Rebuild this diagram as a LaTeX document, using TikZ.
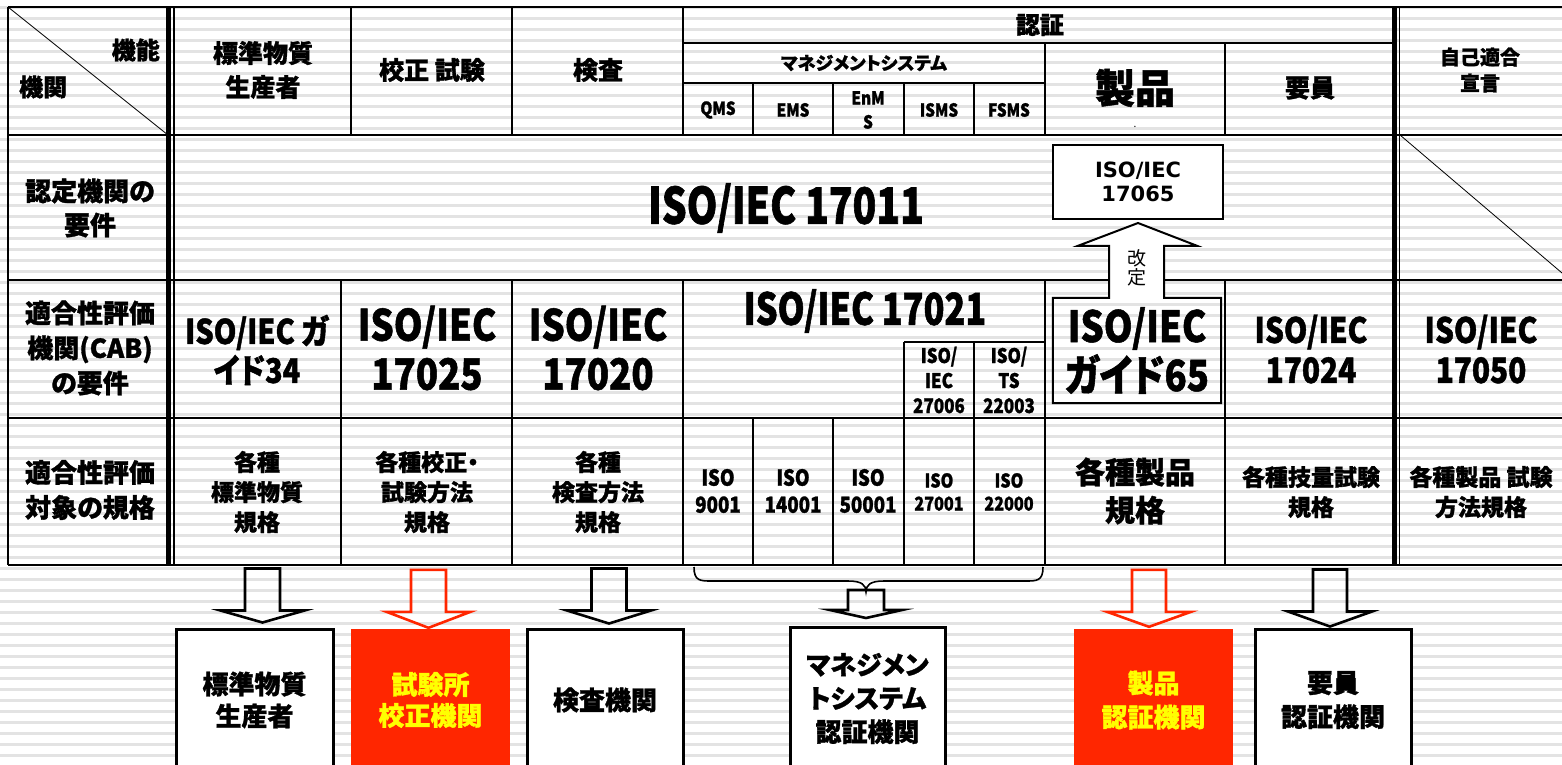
\documentclass[tikz,border=0pt]{standalone}
\usepackage{fontspec}
\newfontfamily\jpfont{Noto Sans CJK JP}[RawFeature=+palt, BoldFeatures={FakeBold=1.2}]
\newfontfamily\latfont{Noto Sans CJK JP}[RawFeature=+palt, FakeStretch=0.85, BoldFeatures={FakeBold=1.2}]
\newfontfamily\latnar{Noto Sans CJK JP}[RawFeature=+palt, FakeStretch=0.78, BoldFeatures={FakeBold=1.2}]
\newfontfamily\vfont{DejaVu Sans}
\usetikzlibrary{calc}
\definecolor{cabred}{RGB}{255,38,0}
\definecolor{cabyel}{RGB}{255,255,0}
\newcommand\jfs[2]{\jpfont\bfseries\fontsize{#1}{#2}\selectfont}
\newcommand\lfs[2]{\latfont\bfseries\fontsize{#1}{#2}\selectfont}
\newcommand\nfs[2]{\latnar\bfseries\fontsize{#1}{#2}\selectfont}
\tikzset{
  stripe/.style={fill=black!11},
  tl/.style={line width=1.5pt, black},
  tlo/.style={line width=2pt, black},
  thk/.style={line width=4.5pt, black},
  lbl/.style={inner sep=0pt, align=center},
  blkarr/.style={draw=black, line width=2.6pt, line join=miter},
  redarr/.style={draw=cabred, line width=2.6pt, line join=miter},
  outbox/.style={draw=black, line width=3pt, fill=white, minimum width=156pt, minimum height=142pt, inner sep=0pt, align=center},
  redbox/.style={fill=cabred, minimum width=159pt, minimum height=142pt, inner sep=0pt, align=center, text=cabyel},
}
\begin{document}
\begin{tikzpicture}[x=1pt,y=-1pt]
\useasboundingbox (0,0) rectangle (1562,764);
\begin{scope}
\clip (0,0) rectangle (1562,764);
\fill[white] (0,0) rectangle (1562,764);
% background stripes
\foreach \k in {-1,...,70} {\fill[stripe] (0,{6+11*\k}) rectangle (1562,{9+11*\k});}
% horizontal table lines
\draw[tlo] (8,7) -- (1562,7);
\draw[tl] (683,43) -- (1395,43);
\draw[tl] (683,83) -- (1045,83);
\draw[tl] (8,135) -- (1562,135);
\draw[tl] (8,280) -- (1562,280);
\draw[tl] (904,342) -- (1045,342);
\draw[tl] (8,418) -- (1562,418);
\draw[tlo] (8,565) -- (1562,565);
% vertical table lines
\draw[tlo] (8,7) -- (8,565);
\draw[thk] (168.5,7) -- (168.5,565);
\draw[tl] (174,7) -- (174,565);
\draw[tl] (351,7) -- (351,135);
\draw[tl] (341,280) -- (341,565);
\draw[tl] (512,7) -- (512,135);
\draw[tl] (512,280) -- (512,565);
\draw[tl] (683,7) -- (683,135);
\draw[tl] (683,280) -- (683,565);
\foreach \xx in {753,833} {\draw[tl] (\xx,83) -- (\xx,135); \draw[tl] (\xx,418) -- (\xx,565);}
\foreach \xx in {904,974} {\draw[tl] (\xx,83) -- (\xx,135); \draw[tl] (\xx,342) -- (\xx,565);}
\foreach \xx in {1045,1225} {\draw[tl] (\xx,43) -- (\xx,135); \draw[tl] (\xx,280) -- (\xx,565);}
\draw[thk] (1394.5,7) -- (1394.5,565);
\draw[tl] (1399.5,7) -- (1399.5,565);
% diagonals
\draw[line width=0.8pt] (8,7) -- (168,135);
\draw[line width=0.8pt] (1400,135) -- (1562,273);

% header texts
\node[lbl, font=\jfs{24}{30}, anchor=east] (hfn) at (160,50) {機能};
\node[lbl, font=\jfs{24}{30}, anchor=west] (hkk) at (19,87) {機関};
\node[lbl, font=\jfs{25}{34}] (h1) at (263,70) {標準物質\\生産者};
\node[lbl, font=\jfs{25}{34}] (h2) at (432,70) {校正 試験};
\node[lbl, font=\jfs{25}{34}] (h3) at (598,70) {検査};
\node[lbl, font=\jfs{24}{30}] (h4) at (1040,25) {認証};
\node[lbl, font=\jfs{18}{22}] (h5) at (864,63) {マネジメントシステム};
\node[lbl, font=\lfs{18}{24}] (q1) at (718,110) {QMS};
\node[lbl, font=\lfs{18}{24}] (q2) at (793,110) {EMS};
\node[lbl, font=\lfs{18}{24}] (q3) at (868,110) {EnM\\S};
\node[lbl, font=\lfs{18}{24}] (q4) at (939,110) {ISMS};
\node[lbl, font=\lfs{18}{24}] (q5) at (1009,110) {FSMS};
\node[lbl, font=\jfs{40}{44}] (h6) at (1135,88) {製品};
\node[lbl, font=\jpfont\fontsize{10}{10}\selectfont] (hdot) at (1135,127) {.};
\node[lbl, font=\jfs{25}{30}] (h7) at (1310,88) {要員};
\node[lbl, font=\jfs{20}{26}] (h8) at (1480,70) {自己適合\\宣言};

% row 2
\node[lbl, font=\jfs{26}{34}] (r2) at (90,208) {認定機関の\\要件};
\node[lbl, font=\nfs{50}{50}] (s17011) at (786,208) {ISO/IEC 17011};
\node[draw, line width=2pt, fill=white, minimum width=170pt, minimum height=74pt, inner sep=0pt, align=center, font=\vfont\bfseries\fontsize{21}{24}\selectfont] (i65) at (1138,182) {ISO/IEC\\17065};

% row 3
\node[lbl, font=\jfs{26}{35}] (r3) at (90,348) {適合性評価\\機関(CAB)\\の要件};
\node[lbl, font=\lfs{34}{39}] (g34) at (257,350) {ISO/IEC ガ\\イド34};
\node[lbl, font=\lfs{43}{49}] (s17025) at (427,348) {ISO/IEC\\17025};
\node[lbl, font=\lfs{43}{49}] (s17020) at (598,348) {ISO/IEC\\17020};
\node[lbl, font=\nfs{44}{44}] (s17021) at (865,311) {ISO/IEC 17021};
\node[lbl, font=\lfs{20}{25}] (s27006) at (939,380) {ISO/\\IEC\\27006};
\node[lbl, font=\lfs{20}{25}] (s22003) at (1009,380) {ISO/\\TS\\22003};
\node[lbl, minimum width=168pt, minimum height=105pt, font=\lfs{43}{49}] (g65) at (1137,350.5) {ISO/IEC\\ガイド65};
\node[lbl, font=\lfs{35}{40}] (s17024) at (1311,349) {ISO/IEC\\17024};
\node[lbl, font=\lfs{35}{40}] (s17050) at (1481,349) {ISO/IEC\\17050};

% revision arrow (ガイド65 -> 17065) joined with the ガイド65 frame
\fill[white] ($(g65.north)+(-28,0)$) -- ++(0,-52) -- ++(-31,0) -- ($(i65.south)+(0,3)$) -- ($(g65.north)+(60,-52)$) -- ++(-33,0) -- ($(g65.north)+(27,0)$) -- cycle;
\draw[line width=2pt, line join=miter] ($(g65.north)+(-28,0)$) -- (g65.north west) -- (g65.south west) -- (g65.south east) -- (g65.north east) -- ($(g65.north)+(27,0)$) -- ++(0,-52) -- ++(33,0) -- ($(i65.south)+(0,3)$) -- ($(g65.north)+(-59,-52)$) -- ++(31,0) -- cycle;
\node[lbl, font=\jpfont\fontsize{19}{19.5}\selectfont] (kt) at (1137,268) {改\\定};

% row 4
\node[lbl, font=\jfs{26}{35}] (r4) at (90,490) {適合性評価\\対象の規格};
\node[lbl, font=\jfs{23}{30}] (c1) at (257,492) {各種\\標準物質\\規格};
\node[lbl, font=\jfs{23}{30}] (c2) at (427,492) {各種校正・\\試験方法\\規格};
\node[lbl, font=\jfs{23}{30}] (c3) at (598,492) {各種\\検査方法\\規格};
\node[lbl, font=\lfs{22}{27}] (m1) at (718,491) {ISO\\9001};
\node[lbl, font=\lfs{22}{27}] (m2) at (793,491) {ISO\\14001};
\node[lbl, font=\lfs{22}{27}] (m3) at (868,491) {ISO\\50001};
\node[lbl, font=\lfs{19}{23}] (m4) at (939,492) {ISO\\27001};
\node[lbl, font=\lfs{19}{23}] (m5) at (1009,492) {ISO\\22000};
\node[lbl, font=\jfs{30}{38}] (c4) at (1135,491) {各種製品\\規格};
\node[lbl, font=\jfs{23}{30}] (c5) at (1311,492) {各種技量試験\\規格};
\node[lbl, font=\jfs{23}{30}] (c6) at (1481,492) {各種製品 試験\\方法規格};

% bottom boxes
\node[outbox, minimum width=157pt, font=\jfs{26}{32}] (n1) at (254.5,700) {標準物質\\生産者};
\node[redbox, font=\jfs{26}{31}] (n2) at (430.5,700) {試験所\\校正機関};
\node[outbox, font=\jfs{26}{32}] (n3) at (605,700) {検査機関};
\node[outbox, minimum width=155pt, font=\jfs{26}{33.5}] (n4) at (867.5,698.5) {マネジメン\\トシステム\\認証機関};
\node[redbox, font=\jfs{26}{34}] (n5) at (1153.5,700) {製品\\認証機関};
\node[outbox, font=\jfs{26}{34}] (n6) at (1333,700) {要員\\認証機関};

% brace under the management-system columns
\coordinate (bl) at (694,567);
\coordinate (br) at (1043,567);
\coordinate (bc) at (866,592);
\draw[line width=1.6pt] (bl) .. controls (694,581) and (700,581) .. (712,581) -- (848,581) .. controls (862,581) and (866,585) .. (bc) .. controls (866,585) and (870,581) .. (884,581) -- (1025,581) .. controls (1037,581) and (1043,581) .. (br);

% hollow block arrows
\draw[blkarr] ($(n1.north)+(8,-5)$) -- ++(-42,-12) -- ++(24.5,0) -- ++(0,-42) -- ++(35,0) -- ++(0,42) -- ++(24.5,0) -- cycle;
\draw[redarr] ($(n2.north)+(-2,-1)$) -- ++(-42,-16) -- ++(24.5,0) -- ++(0,-42) -- ++(35,0) -- ++(0,42) -- ++(24.5,0) -- cycle;
\draw[blkarr] ($(n3.north)+(4,-4)$) -- ++(-42,-13) -- ++(24.5,0) -- ++(0,-42) -- ++(35,0) -- ++(0,42) -- ++(24.5,0) -- cycle;
\draw[blkarr] ($(n4.north)+(-1.5,-8)$) -- ++(-36,-8) -- ++(18,0) -- ++(0,-20) -- ++(36,0) -- ++(0,20) -- ++(18,0) -- cycle;
\draw[redarr] ($(n5.north)+(-4.5,-2)$) -- ++(-42,-15) -- ++(25,0) -- ++(0,-42) -- ++(34,0) -- ++(0,42) -- ++(25,0) -- cycle;
\draw[blkarr] ($(n6.north)+(-3,-1)$) -- ++(-42,-15) -- ++(25,0) -- ++(0,-42) -- ++(34,0) -- ++(0,42) -- ++(25,0) -- cycle;
\end{scope}
\end{tikzpicture}
\end{document}
